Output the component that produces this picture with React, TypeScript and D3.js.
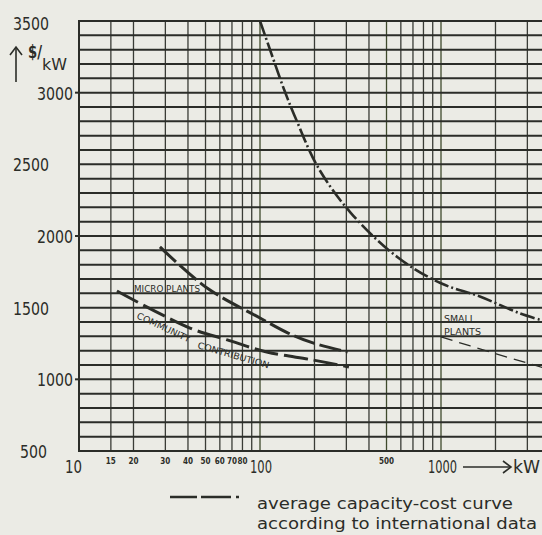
import React, { useEffect, useRef } from "react";
import * as d3 from "d3";

// y axis ($/kW) labels and x axis (kW) grid / labels
const yLabels = [500, 1000, 1500, 2000, 2500, 3000, 3500];
const yNearLabels = [1000, 2000, 3000];
const xGrid = [15, 20, 30, 40, 50, 60, 70, 80, 90, 100, 200, 300, 400, 500, 600, 700, 800, 900, 1000, 2000, 3000];
const xSmallLabels = [15, 20, 30, 40, 50, 60, 70, 80, 500];
const xBigLabels = [10, 100, 1000];

// average capacity-cost curve (international data)
const avgKw = [100, 118, 136, 160, 209, 318, 578, 1000, 1640, 2730, 3650];
const avgCost = [3500, 3240, 3020, 2800, 2480, 2160, 1850, 1670, 1578, 1460, 1410];

// micro plants
const microKw = [28, 51, 100, 143, 196, 305];
const microCost = [1924, 1637, 1428, 1323, 1254, 1191];

// community contribution
const communityKw = [16.2, 41, 66, 109, 196, 310];
const communityCost = [1616, 1358, 1275, 1191, 1135, 1086];

// small plants
const smallKw = [1000, 1866, 3650];
const smallCost = [1296, 1191, 1082];

const ink = "#2b2d28";
const font = "'DejaVu Sans Condensed', 'DejaVu Sans', sans-serif";

const App = () => {
  const svgRef = useRef(null);

  useEffect(() => {
    const width = 542;
    const height = 535;
    const svg = d3.select(svgRef.current);
    svg.selectAll("*").remove();
    svg.attr("width", width).attr("height", height);

    svg.append("rect").attr("width", width).attr("height", height).attr("fill", "#ebebe5");

    const x = d3.scaleLog().domain([10, 1000]).range([79, 441]);
    const y = d3.scaleLinear().domain([500, 3500]).range([451, 21]);
    const right = width;

    // vertical grid
    svg.append("g")
      .selectAll("line")
      .data(xGrid)
      .join("line")
      .attr("x1", (d) => x(d))
      .attr("x2", (d) => x(d))
      .attr("y1", y(3500))
      .attr("y2", y(500))
      .attr("stroke", (d) => (d === 100 || d === 1000 || d === 500 ? "#3f4a2c" : "#3a3c36"))
      .attr("stroke-width", 1.3);

    // horizontal grid, every 100 $/kW
    svg.append("g")
      .selectAll("line")
      .data(d3.range(500, 3501, 100))
      .join("line")
      .attr("x1", x(10))
      .attr("x2", right)
      .attr("y1", (d) => y(d))
      .attr("y2", (d) => y(d))
      .attr("stroke", ink)
      .attr("stroke-width", 2);

    // left border
    svg.append("line")
      .attr("x1", x(10)).attr("x2", x(10))
      .attr("y1", y(3500) - 1).attr("y2", y(500) + 1)
      .attr("stroke", ink).attr("stroke-width", 2);

    // little ticks left of the axis
    svg.append("g")
      .selectAll("line")
      .data(yNearLabels)
      .join("line")
      .attr("x1", x(10) - 4)
      .attr("x2", x(10))
      .attr("y1", (d) => y(d))
      .attr("y2", (d) => y(d))
      .attr("stroke", ink)
      .attr("stroke-width", 2);

    // y labels
    svg.append("g")
      .selectAll("text")
      .data(yLabels)
      .join("text")
      .attr("x", (d) => (yNearLabels.includes(d) ? 37 : d === 500 ? 20 : 13))
      .attr("y", (d) => y(d) + 7 + (d === 3500 ? 2 : 0))
      .attr("textLength", (d) => (d === 500 ? 27 : 36))
      .attr("lengthAdjust", "spacingAndGlyphs")
      .style("font-family", font)
      .style("font-size", "18px")
      .style("fill", ink)
      .text((d) => d);

    // unit: arrow + $/kW
    svg.append("line")
      .attr("x1", 16).attr("x2", 16).attr("y1", 82).attr("y2", 47)
      .attr("stroke", ink).attr("stroke-width", 1.6);
    svg.append("path")
      .attr("d", "M10,55 L16,47 L22,55")
      .attr("fill", "none").attr("stroke", ink).attr("stroke-width", 1.6);
    svg.append("text")
      .attr("x", 28).attr("y", 58)
      .attr("textLength", 14).attr("lengthAdjust", "spacingAndGlyphs")
      .style("font-family", font).style("font-size", "17px").style("font-weight", "bold")
      .style("fill", ink).text("$/");
    svg.append("text")
      .attr("x", 42).attr("y", 70)
      .attr("textLength", 25).attr("lengthAdjust", "spacingAndGlyphs")
      .style("font-family", font).style("font-size", "16px")
      .style("fill", ink).text("kW");

    // x labels
    svg.append("g")
      .selectAll("text")
      .data(xSmallLabels)
      .join("text")
      .attr("x", (d) => x(d))
      .attr("y", 464)
      .attr("text-anchor", "middle")
      .style("font-family", font)
      .style("font-size", "8px")
      .style("font-weight", "bold")
      .style("fill", ink)
      .text((d) => d);

    svg.append("g")
      .selectAll("text")
      .data(xBigLabels)
      .join("text")
      .attr("x", (d) => (d === 10 ? 65 : d === 100 ? 250 : 428))
      .attr("y", 473)
      .attr("textLength", (d) => (d === 10 ? 17 : d === 100 ? 22 : 29))
      .attr("lengthAdjust", "spacingAndGlyphs")
      .style("font-family", font)
      .style("font-size", "18px")
      .style("fill", ink)
      .text((d) => d);

    // kW arrow
    svg.append("line")
      .attr("x1", 463).attr("x2", 511).attr("y1", 467).attr("y2", 467)
      .attr("stroke", ink).attr("stroke-width", 1.6);
    svg.append("path")
      .attr("d", "M503,461 L511,467 L503,473")
      .attr("fill", "none").attr("stroke", ink).attr("stroke-width", 1.6);
    svg.append("text")
      .attr("x", 513).attr("y", 473)
      .attr("textLength", 27).attr("lengthAdjust", "spacingAndGlyphs")
      .style("font-family", font).style("font-size", "17px")
      .style("fill", ink).text("kW");

    // curves
    const line = d3
      .line()
      .x((d) => x(d[0]))
      .y((d) => y(d[1]))
      .curve(d3.curveCatmullRom.alpha(0.5));

    const series = [
      { kw: avgKw, cost: avgCost, w: 2.6, dash: "15,3,2,3" },
      { kw: microKw, cost: microCost, w: 3, dash: "22,5" },
      { kw: communityKw, cost: communityCost, w: 3, dash: "24,6" },
      { kw: smallKw, cost: smallCost, w: 1.3, dash: "12,7" },
    ];

    series.forEach((s) => {
      svg.append("path")
        .datum(s.kw.map((k, i) => [k, s.cost[i]]))
        .attr("fill", "none")
        .attr("stroke", ink)
        .attr("stroke-width", s.w)
        .attr("stroke-dasharray", s.dash)
        .attr("d", line);
    });

    // curve labels
    const small = (g, txt, px, py, len, rot) => {
      g.append("text")
        .attr("x", px)
        .attr("y", py)
        .attr("textLength", len)
        .attr("lengthAdjust", "spacingAndGlyphs")
        .attr("transform", rot ? `rotate(${rot}, ${px}, ${py})` : null)
        .style("font-family", font)
        .style("font-size", "9px")
        .style("fill", ink)
        .text(txt);
    };
    small(svg, "MICRO PLANTS", 134, 292, 66, 0);
    small(svg, "COMMUNITY", 136, 318, 58, 25);
    small(svg, "CONTRIBUTION", 197, 348, 74, 16);
    small(svg, "SMALL", 444, 322, 31, 0);
    small(svg, "PLANTS", 444, 335, 37, 0);

    // legend
    svg.append("line")
      .attr("x1", 170).attr("x2", 240).attr("y1", 497).attr("y2", 497)
      .attr("stroke", ink).attr("stroke-width", 2.6)
      .attr("stroke-dasharray", "27,4,30,5,3,10");
    svg.append("text")
      .attr("x", 257).attr("y", 509)
      .attr("textLength", 256).attr("lengthAdjust", "spacingAndGlyphs")
      .style("font-family", font).style("font-size", "15px")
      .style("fill", ink).text("average capacity-cost curve");
    svg.append("text")
      .attr("x", 257).attr("y", 529)
      .attr("textLength", 280).attr("lengthAdjust", "spacingAndGlyphs")
      .style("font-family", font).style("font-size", "15px")
      .style("fill", ink).text("according to international data");
  }, []);

  return (
    <div style={{ position: "absolute", left: 0, top: 0 }}>
      <svg ref={svgRef} style={{ display: "block" }}></svg>
    </div>
  );
};

export default App;
